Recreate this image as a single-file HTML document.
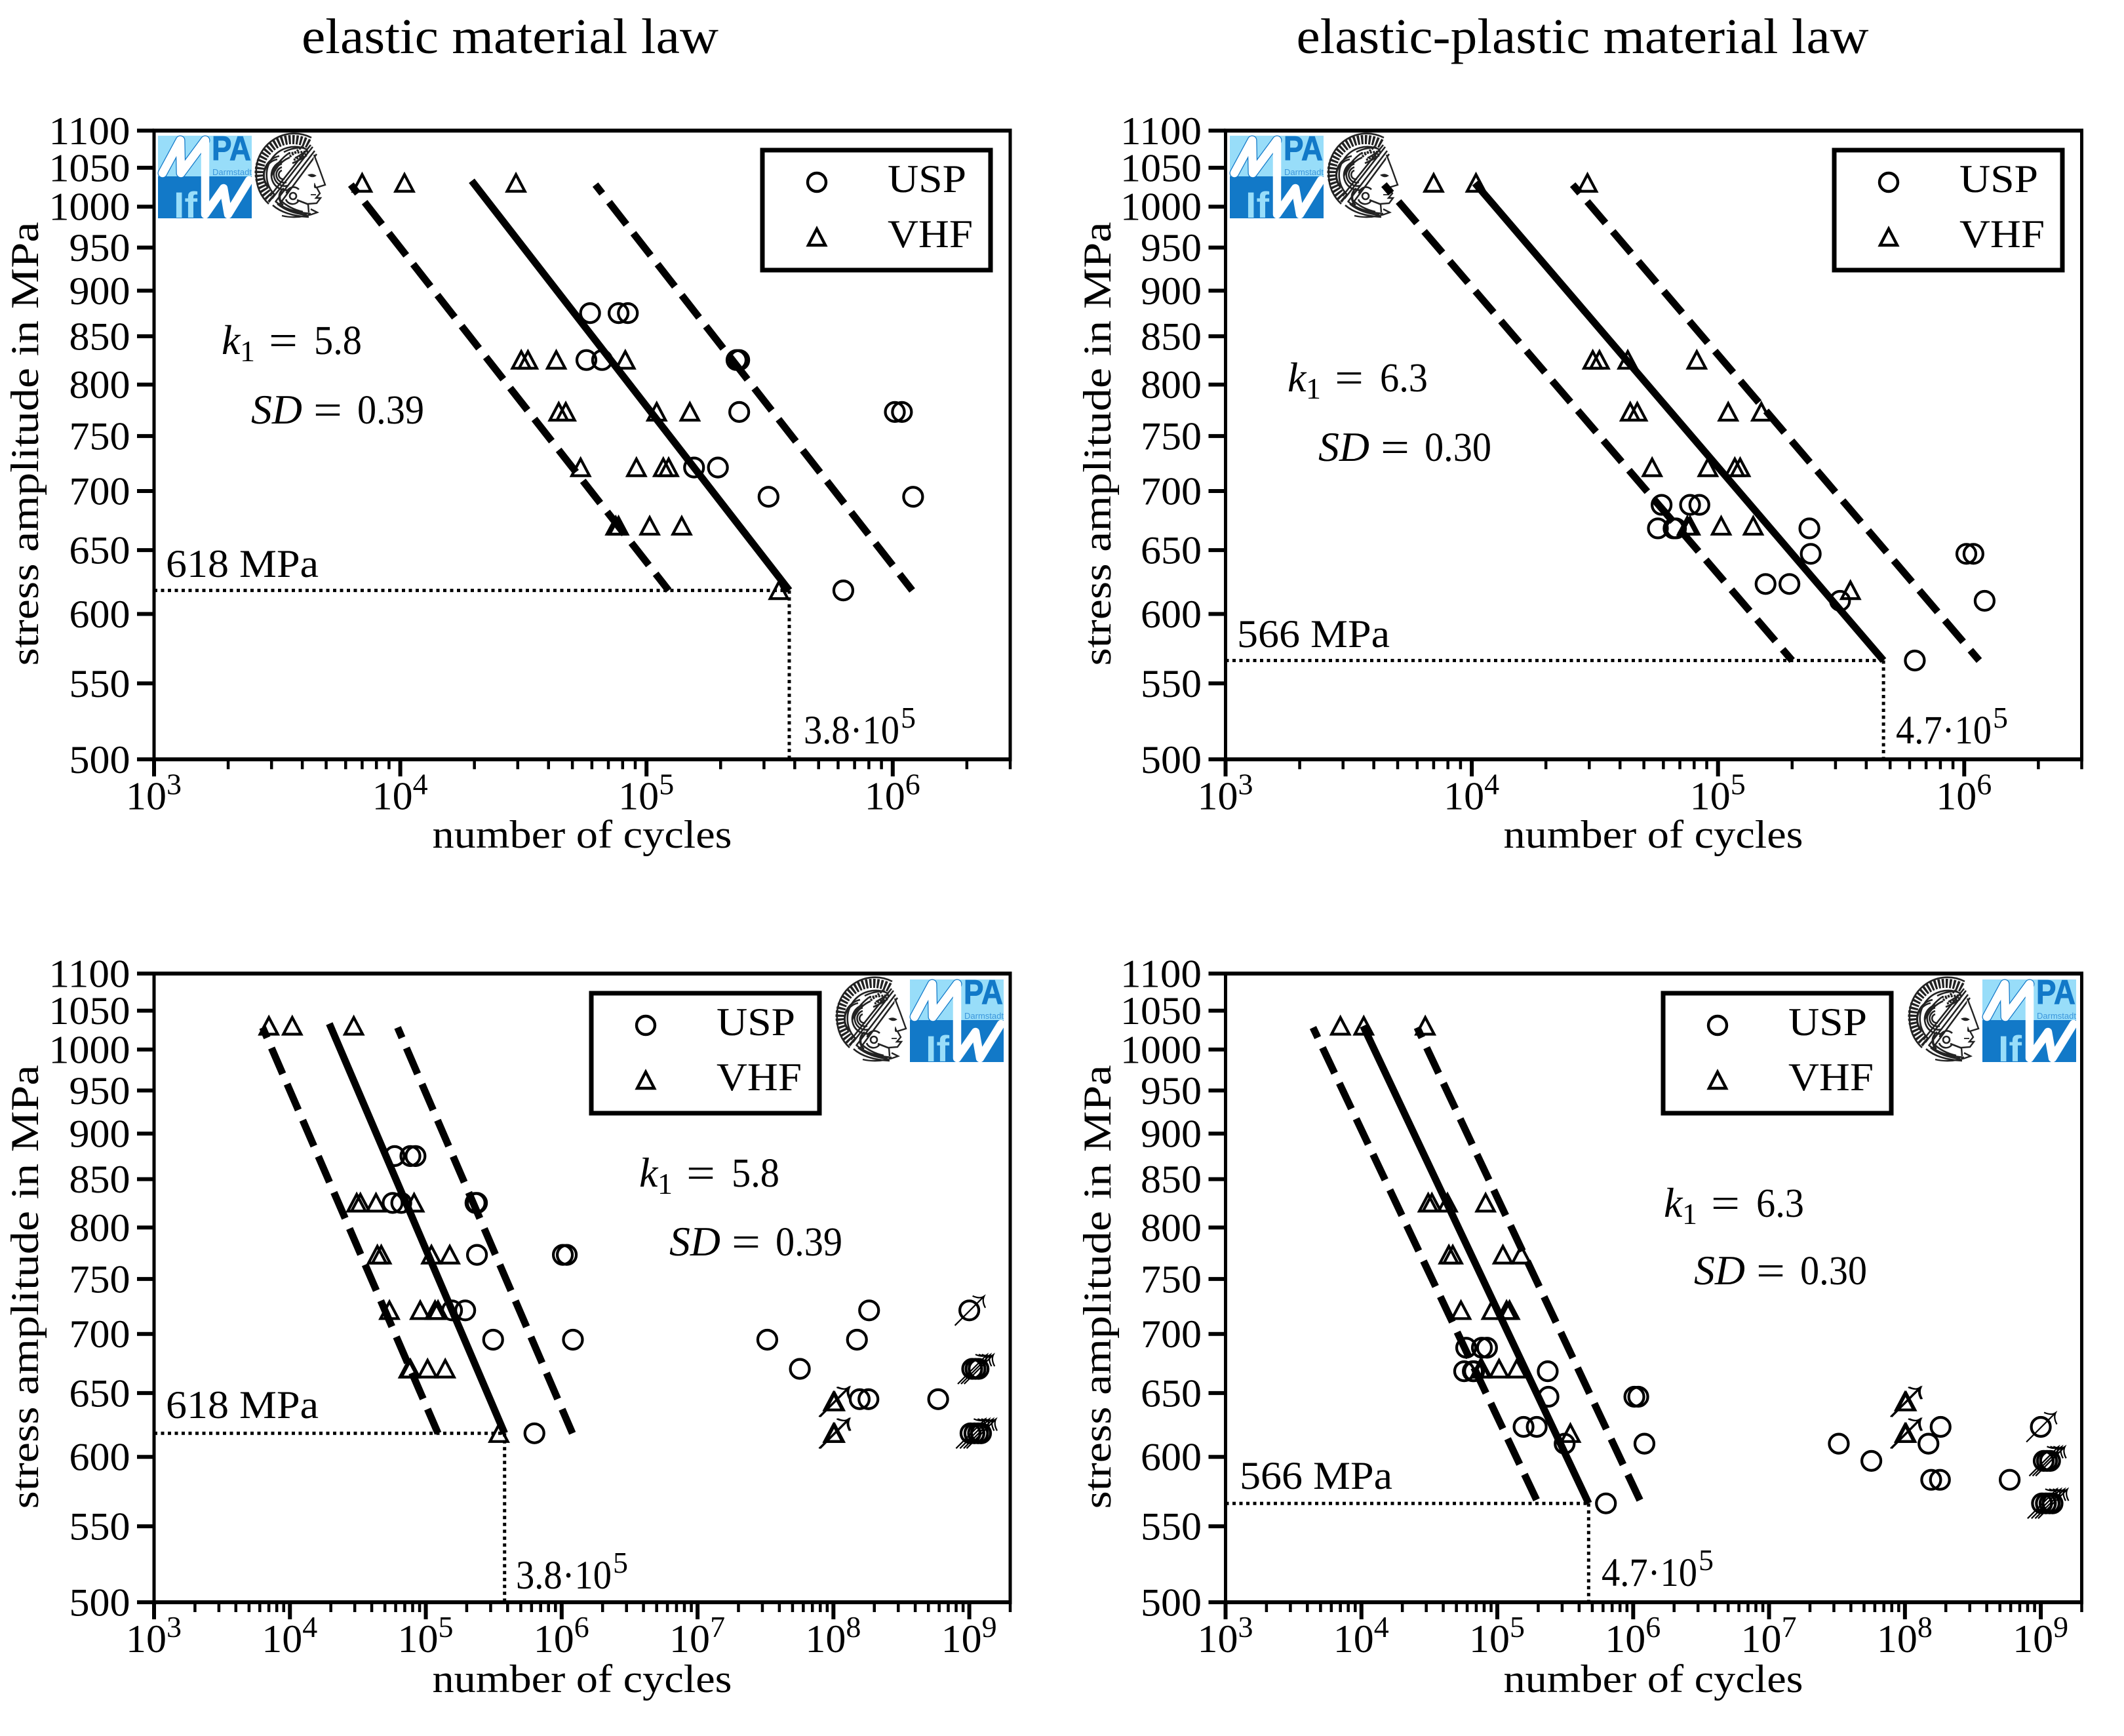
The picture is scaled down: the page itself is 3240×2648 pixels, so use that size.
<!DOCTYPE html>
<html lang="en">
<head>
<meta charset="utf-8">
<title>S-N fatigue charts: elastic and elastic-plastic material law</title>
<style>
html,body{margin:0;padding:0;background:#fff;}
svg{display:block;}
text{font-family:"Liberation Serif",serif;fill:#000;}
</style>
</head>
<body>
<svg id="figure" xmlns="http://www.w3.org/2000/svg" width="3240" height="2648" viewBox="0 0 3240 2648">
<rect width="3240" height="2648" fill="#fff"/>
<text x="778" y="81" font-size="76" text-anchor="middle" textLength="636" lengthAdjust="spacingAndGlyphs">elastic material law</text>
<text x="2414" y="81" font-size="76" text-anchor="middle" textLength="873" lengthAdjust="spacingAndGlyphs">elastic-plastic material law</text>

<!-- panel text -->
<g>
<text x="888" y="1293" font-size="60" text-anchor="middle" textLength="457" lengthAdjust="spacingAndGlyphs">number of cycles</text>
<text transform="translate(58,677) rotate(-90)" font-size="60" text-anchor="middle" textLength="677" lengthAdjust="spacingAndGlyphs">stress amplitude in MPa</text>
<text x="253" y="880" font-size="60" textLength="233" lengthAdjust="spacingAndGlyphs">618 MPa</text>
<text x="1226" y="1134" font-size="61" textLength="146" lengthAdjust="spacingAndGlyphs">3.8·10</text>
<text x="1374" y="1110" font-size="46">5</text>
<g transform="translate(338,540)">
<text x="0" y="0" font-size="64" font-style="italic">k</text><text x="28" y="11" font-size="46">1</text><text x="72" y="2" font-size="68" textLength="44" lengthAdjust="spacingAndGlyphs">=</text><text x="141" y="0" font-size="62" textLength="73" lengthAdjust="spacingAndGlyphs">5.8</text>
</g>
<g transform="translate(383,646)">
<text x="0" y="0" font-size="64" font-style="italic" textLength="78" lengthAdjust="spacingAndGlyphs">SD</text><text x="95" y="2" font-size="68" textLength="44" lengthAdjust="spacingAndGlyphs">=</text><text x="162" y="0" font-size="62" textLength="102" lengthAdjust="spacingAndGlyphs">0.39</text>
</g>
</g>

<g>
<text x="2522" y="1293" font-size="60" text-anchor="middle" textLength="457" lengthAdjust="spacingAndGlyphs">number of cycles</text>
<text transform="translate(1694,677) rotate(-90)" font-size="60" text-anchor="middle" textLength="677" lengthAdjust="spacingAndGlyphs">stress amplitude in MPa</text>
<text x="1887" y="987" font-size="60" textLength="233" lengthAdjust="spacingAndGlyphs">566 MPa</text>
<text x="2892" y="1134" font-size="61" textLength="146" lengthAdjust="spacingAndGlyphs">4.7·10</text>
<text x="3040" y="1110" font-size="46">5</text>
<g transform="translate(1964,597)">
<text x="0" y="0" font-size="64" font-style="italic">k</text><text x="28" y="11" font-size="46">1</text><text x="72" y="2" font-size="68" textLength="44" lengthAdjust="spacingAndGlyphs">=</text><text x="141" y="0" font-size="62" textLength="73" lengthAdjust="spacingAndGlyphs">6.3</text>
</g>
<g transform="translate(2011,703)">
<text x="0" y="0" font-size="64" font-style="italic" textLength="78" lengthAdjust="spacingAndGlyphs">SD</text><text x="95" y="2" font-size="68" textLength="44" lengthAdjust="spacingAndGlyphs">=</text><text x="162" y="0" font-size="62" textLength="102" lengthAdjust="spacingAndGlyphs">0.30</text>
</g>
</g>

<g>
<text x="888" y="2581" font-size="60" text-anchor="middle" textLength="457" lengthAdjust="spacingAndGlyphs">number of cycles</text>
<text transform="translate(58,1963) rotate(-90)" font-size="60" text-anchor="middle" textLength="677" lengthAdjust="spacingAndGlyphs">stress amplitude in MPa</text>
<text x="253" y="2163" font-size="60" textLength="233" lengthAdjust="spacingAndGlyphs">618 MPa</text>
<text x="787" y="2423" font-size="61" textLength="146" lengthAdjust="spacingAndGlyphs">3.8·10</text>
<text x="935" y="2399" font-size="46">5</text>
<g transform="translate(975,1810)">
<text x="0" y="0" font-size="64" font-style="italic">k</text><text x="28" y="11" font-size="46">1</text><text x="72" y="2" font-size="68" textLength="44" lengthAdjust="spacingAndGlyphs">=</text><text x="141" y="0" font-size="62" textLength="73" lengthAdjust="spacingAndGlyphs">5.8</text>
</g>
<g transform="translate(1021,1915)">
<text x="0" y="0" font-size="64" font-style="italic" textLength="78" lengthAdjust="spacingAndGlyphs">SD</text><text x="95" y="2" font-size="68" textLength="44" lengthAdjust="spacingAndGlyphs">=</text><text x="162" y="0" font-size="62" textLength="102" lengthAdjust="spacingAndGlyphs">0.39</text>
</g>
</g>

<g>
<text x="2522" y="2581" font-size="60" text-anchor="middle" textLength="457" lengthAdjust="spacingAndGlyphs">number of cycles</text>
<text transform="translate(1694,1963) rotate(-90)" font-size="60" text-anchor="middle" textLength="677" lengthAdjust="spacingAndGlyphs">stress amplitude in MPa</text>
<text x="1891" y="2271" font-size="60" textLength="233" lengthAdjust="spacingAndGlyphs">566 MPa</text>
<text x="2443" y="2419" font-size="61" textLength="146" lengthAdjust="spacingAndGlyphs">4.7·10</text>
<text x="2591" y="2395" font-size="46">5</text>
<g transform="translate(2538,1856)">
<text x="0" y="0" font-size="64" font-style="italic">k</text><text x="28" y="11" font-size="46">1</text><text x="72" y="2" font-size="68" textLength="44" lengthAdjust="spacingAndGlyphs">=</text><text x="141" y="0" font-size="62" textLength="73" lengthAdjust="spacingAndGlyphs">6.3</text>
</g>
<g transform="translate(2584,1959)">
<text x="0" y="0" font-size="64" font-style="italic" textLength="78" lengthAdjust="spacingAndGlyphs">SD</text><text x="95" y="2" font-size="68" textLength="44" lengthAdjust="spacingAndGlyphs">=</text><text x="162" y="0" font-size="62" textLength="102" lengthAdjust="spacingAndGlyphs">0.30</text>
</g>
</g>

<!-- logos -->
<g transform="translate(241,207)">
<rect width="143" height="62" fill="#98DDF9"/><rect y="62" width="143" height="64" fill="#1279C8"/>
<text x="82" y="37" font-size="52" font-weight="bold" stroke="#1279C8" stroke-width="1" style="font-family:'Liberation Sans',sans-serif;fill:#1279C8" textLength="60" lengthAdjust="spacingAndGlyphs">PA</text>
<text x="83" y="60" font-size="13" style="font-family:'Liberation Sans',sans-serif;fill:#3B96DC" textLength="60" lengthAdjust="spacingAndGlyphs">Darmstadt</text>
<text x="24" y="125" font-size="56" font-weight="bold" style="font-family:'Liberation Sans',sans-serif;fill:#98DDF9" textLength="36" lengthAdjust="spacingAndGlyphs">If</text>
<path d="M7 57L34 7L35 57L72 7" fill="none" stroke="#1279C8" stroke-width="15" stroke-linecap="round" stroke-linejoin="round"/>
<path d="M7 57L34 7L35 57L72 7L72 120L100 80L107 120L139 68" fill="none" stroke="#fff" stroke-width="12.5" stroke-linecap="round" stroke-linejoin="round"/>
</g>
<g transform="translate(1876,207)">
<rect width="143" height="62" fill="#98DDF9"/><rect y="62" width="143" height="64" fill="#1279C8"/>
<text x="82" y="37" font-size="52" font-weight="bold" stroke="#1279C8" stroke-width="1" style="font-family:'Liberation Sans',sans-serif;fill:#1279C8" textLength="60" lengthAdjust="spacingAndGlyphs">PA</text>
<text x="83" y="60" font-size="13" style="font-family:'Liberation Sans',sans-serif;fill:#3B96DC" textLength="60" lengthAdjust="spacingAndGlyphs">Darmstadt</text>
<text x="24" y="125" font-size="56" font-weight="bold" style="font-family:'Liberation Sans',sans-serif;fill:#98DDF9" textLength="36" lengthAdjust="spacingAndGlyphs">If</text>
<path d="M7 57L34 7L35 57L72 7" fill="none" stroke="#1279C8" stroke-width="15" stroke-linecap="round" stroke-linejoin="round"/>
<path d="M7 57L34 7L35 57L72 7L72 120L100 80L107 120L139 68" fill="none" stroke="#fff" stroke-width="12.5" stroke-linecap="round" stroke-linejoin="round"/>
</g>
<g transform="translate(1388,1494)">
<rect width="143" height="62" fill="#98DDF9"/><rect y="62" width="143" height="64" fill="#1279C8"/>
<text x="82" y="37" font-size="52" font-weight="bold" stroke="#1279C8" stroke-width="1" style="font-family:'Liberation Sans',sans-serif;fill:#1279C8" textLength="60" lengthAdjust="spacingAndGlyphs">PA</text>
<text x="83" y="60" font-size="13" style="font-family:'Liberation Sans',sans-serif;fill:#3B96DC" textLength="60" lengthAdjust="spacingAndGlyphs">Darmstadt</text>
<text x="24" y="125" font-size="56" font-weight="bold" style="font-family:'Liberation Sans',sans-serif;fill:#98DDF9" textLength="36" lengthAdjust="spacingAndGlyphs">If</text>
<path d="M7 57L34 7L35 57L72 7" fill="none" stroke="#1279C8" stroke-width="15" stroke-linecap="round" stroke-linejoin="round"/>
<path d="M7 57L34 7L35 57L72 7L72 120L100 80L107 120L139 68" fill="none" stroke="#fff" stroke-width="12.5" stroke-linecap="round" stroke-linejoin="round"/>
</g>
<g transform="translate(3024,1494)">
<rect width="143" height="62" fill="#98DDF9"/><rect y="62" width="143" height="64" fill="#1279C8"/>
<text x="82" y="37" font-size="52" font-weight="bold" stroke="#1279C8" stroke-width="1" style="font-family:'Liberation Sans',sans-serif;fill:#1279C8" textLength="60" lengthAdjust="spacingAndGlyphs">PA</text>
<text x="83" y="60" font-size="13" style="font-family:'Liberation Sans',sans-serif;fill:#3B96DC" textLength="60" lengthAdjust="spacingAndGlyphs">Darmstadt</text>
<text x="24" y="125" font-size="56" font-weight="bold" style="font-family:'Liberation Sans',sans-serif;fill:#98DDF9" textLength="36" lengthAdjust="spacingAndGlyphs">If</text>
<path d="M7 57L34 7L35 57L72 7" fill="none" stroke="#1279C8" stroke-width="15" stroke-linecap="round" stroke-linejoin="round"/>
<path d="M7 57L34 7L35 57L72 7L72 120L100 80L107 120L139 68" fill="none" stroke="#fff" stroke-width="12.5" stroke-linecap="round" stroke-linejoin="round"/>
</g>

<defs>
<g id="athena-head" fill="none" stroke="#222" stroke-width="2.6">
<path d="M85 3A58 58 0 0 0 1 60A58 58 0 0 0 20 104" stroke-width="2.6"/>
<path d="M81 12.5A50.5 50.5 0 0 0 26 97" stroke-width="14" stroke-dasharray="3.4 2.3"/>
<path d="M78 21A43 43 0 0 0 30 91" stroke-width="2.6"/>
<path d="M87 17L25 96M90 23L30 101M84 14L22 92M93 28L36 105" stroke-width="2.6"/>
<path d="M40 39A17 17 0 1 0 53 82M40 43A13 13 0 1 0 50 76M40 48A9 9 0 1 0 47 71M40 53A5 5 0 1 0 44 66M33 36A25 25 0 0 0 22 80M36 31A30 30 0 0 0 18 78"/>
<path d="M28 56Q36 40 52 33M24 62Q30 42 50 27M43 25Q56 18 74 18M60 34Q68 30 76 24M56 42Q66 38 78 30" stroke-width="2.6"/>
<path d="M50 27L80 24M58 37L78 28M52 32L72 16" stroke-width="3.4" stroke-dasharray="3 1.6"/>
<path d="M89 29L97 50L106 75L93 79L98 88L92 95L99 95L93 103L80 104L81 117" fill="#fff" stroke-width="2.4"/>
<path d="M93 79Q88 82 90 72M80 60Q86 57 92 61Q86 65 80 60Z" fill="#222" stroke-width="1"/>
<path d="M92 90L84 90" stroke-width="1.8"/>
<path d="M63 98L81 105"/>
<circle cx="57" cy="92" r="5" stroke-width="2.6"/>
<path d="M47 88A11 11 0 0 1 66 82M46 97A11 11 0 0 0 65 100M40 84A18 18 0 0 0 40 104M43 80A16 16 0 0 0 42 106" stroke-width="2.6"/>
<path d="M26 106Q44 122 81 124M30 100Q48 116 84 119M36 97Q52 112 72 116M33 104Q50 118 78 121" stroke-width="2.6"/>
<path d="M40 122Q66 128 94 117L84 112" stroke-width="2.4"/>
</g>
</defs>
<use href="#athena-head" x="390" y="207"/>
<use href="#athena-head" x="2026" y="207"/>
<use href="#athena-head" x="1276" y="1494"/>
<use href="#athena-head" x="2912" y="1494"/>

<g id="chart-layer"></g>

<!-- legends -->
<g transform="translate(1163,229)">
<rect width="348" height="183" fill="#fff" stroke="#000" stroke-width="7"/>
<circle cx="83" cy="49" r="14" fill="none" stroke="#000" stroke-width="4.4"/>
<path d="M83 120L96 145H70Z" fill="none" stroke="#000" stroke-width="4.4"/>
<text x="191" y="64" font-size="60" textLength="120" lengthAdjust="spacingAndGlyphs">USP</text>
<text x="191" y="148" font-size="60" textLength="130" lengthAdjust="spacingAndGlyphs">VHF</text>
</g>
<g transform="translate(2798,229)">
<rect width="348" height="183" fill="#fff" stroke="#000" stroke-width="7"/>
<circle cx="83" cy="49" r="14" fill="none" stroke="#000" stroke-width="4.4"/>
<path d="M83 120L96 145H70Z" fill="none" stroke="#000" stroke-width="4.4"/>
<text x="191" y="64" font-size="60" textLength="120" lengthAdjust="spacingAndGlyphs">USP</text>
<text x="191" y="148" font-size="60" textLength="130" lengthAdjust="spacingAndGlyphs">VHF</text>
</g>
<g transform="translate(902,1515)">
<rect width="348" height="183" fill="#fff" stroke="#000" stroke-width="7"/>
<circle cx="83" cy="49" r="14" fill="none" stroke="#000" stroke-width="4.4"/>
<path d="M83 120L96 145H70Z" fill="none" stroke="#000" stroke-width="4.4"/>
<text x="191" y="64" font-size="60" textLength="120" lengthAdjust="spacingAndGlyphs">USP</text>
<text x="191" y="148" font-size="60" textLength="130" lengthAdjust="spacingAndGlyphs">VHF</text>
</g>
<g transform="translate(2537,1515)">
<rect width="348" height="183" fill="#fff" stroke="#000" stroke-width="7"/>
<circle cx="83" cy="49" r="14" fill="none" stroke="#000" stroke-width="4.4"/>
<path d="M83 120L96 145H70Z" fill="none" stroke="#000" stroke-width="4.4"/>
<text x="191" y="64" font-size="60" textLength="120" lengthAdjust="spacingAndGlyphs">USP</text>
<text x="191" y="148" font-size="60" textLength="130" lengthAdjust="spacingAndGlyphs">VHF</text>
</g>
</svg>

<script>
// ---- data ----
const yTickValues = [500, 550, 600, 650, 700, 750, 800, 850, 900, 950, 1000, 1050, 1100];
const topExponents = [3, 4, 5, 6];
const bottomExponents = [3, 4, 5, 6, 7, 8, 9];

const vhfCycles = [7.0e3, 1.04e4, 2.95e4, 3.1e4, 3.3e4, 4.3e4, 8.2e4, 4.4e4, 4.7e4, 1.1e5, 1.5e5, 5.4e4, 9.1e4, 1.17e5, 1.23e5, 7.5e4, 7.7e4, 1.03e5, 1.39e5, 3.45e5];
const vhfStress = [1030, 1030, 1030, 825, 825, 825, 825, 773, 773, 773, 773, 721, 721, 721, 721, 670, 670, 670, 670, 618];
const vhfRunoutCycles = [1.0e8, 1.02e8, 1.0e8, 1.02e8];
const vhfRunoutStress = [643, 643, 618, 618];

const elasticUspCycles = [5.9e4, 7.7e4, 8.4e4, 5.7e4, 6.6e4, 2.32e5, 2.38e5, 2.38e5, 1.02e6, 1.09e6, 1.56e5, 1.95e5, 3.13e5, 1.21e6, 6.3e5];
const elasticUspStress = [875, 875, 875, 825, 825, 825, 825, 773, 773, 773, 721, 721, 695, 695, 618];
const plasticUspCycles = [5.9e4, 7.7e4, 8.4e4, 5.7e4, 6.6e4, 6.75e4, 2.35e5, 2.38e5, 1.02e6, 1.09e6, 1.56e5, 1.95e5, 3.13e5, 1.21e6, 6.3e5];
const plasticUspStress = [688, 688, 688, 668, 668, 668, 668, 647, 647, 647, 623, 623, 610, 610, 566];

const extraUspCycles = [1.83e8, 3.26e7, 1.49e8, 5.66e7, 1.56e8, 1.81e8, 5.9e8];
const elasticExtraStress = [721, 695, 695, 670, 645, 645, 645];
const plasticExtraStress = [623, 610, 610, 597, 583, 583, 583];

const uspRunoutCycles = [1.0e9, 1.05e9, 1.11e9, 1.17e9, 1.02e9, 1.09e9, 1.16e9, 1.22e9];
const elasticRunoutStress = [721, 670, 670, 670, 618, 618, 618, 618];
const plasticRunoutStress = [623, 597, 597, 597, 566, 566, 566, 566];

const elasticFitCycles = [1.95e4, 3.8e5];
const elasticFitStress = [1033, 618];
const elasticLowerCycles = [6.3e3, 1.23e5];
const elasticUpperCycles = [6.2e4, 1.2e6];
const elasticBandStress = [1028, 618];

const plasticFitCycles = [1.03e4, 4.7e5];
const plasticFitStress = [1030, 566];
const plasticLowerCycles = [4.4e3, 2.0e5];
const plasticUpperCycles = [2.57e4, 1.15e6];
const plasticBandStress = [1028, 566];

const NS = 'http://www.w3.org/2000/svg';
const chartLayer = document.getElementById('chart-layer');
const Y_MAX = 1100, Y_MIN = 500;
const PLOT_W = 1306, PLOT_H = 959;

function mk(tag, attrs, parent) {
  const el = document.createElementNS(NS, tag);
  for (const k in attrs) el.setAttribute(k, attrs[k]);
  parent.appendChild(el);
  return el;
}

function drawPanel(p) {
  const xAt = n => p.left + (Math.log10(n) - 3) * PLOT_W / (Math.log10(p.xMax) - 3);
  const yAt = s => p.top + PLOT_H * Math.log(Y_MAX / s) / Math.log(Y_MAX / Y_MIN);
  const bottom = p.top + PLOT_H;
  const right = p.left + PLOT_W;

  const g = mk('g', {}, chartLayer);
  
  

  // spines
  const spineTop = mk('line', {x1: p.left - 2.5, x2: right + 2.5, y1: p.top, y2: p.top, stroke: '#000', 'stroke-width': 6}, g);
  
  
  const spineBottom = mk('line', {x1: p.left - 2.5, x2: right + 2.5, y1: bottom, y2: bottom, stroke: '#000', 'stroke-width': 6}, g);
  
  
  const spineLeft = mk('line', {x1: p.left, x2: p.left, y1: p.top, y2: bottom, stroke: '#000', 'stroke-width': 5}, g);
  
  
  const spineRight = mk('line', {x1: right, x2: right, y1: p.top, y2: bottom, stroke: '#000', 'stroke-width': 5}, g);
  
  

  // y ticks
  yTickValues.forEach(v => {
    const y = yAt(v);
    const t = mk('line', {x1: p.left - 26, x2: p.left, y1: y, y2: y, stroke: '#000', 'stroke-width': 6}, g);
    
    
    const l = mk('text', {x: p.left - 36.5, y: y + 20.5, 'font-size': 60, 'text-anchor': 'end', textLength: String(v).length * 31, lengthAdjust: 'spacingAndGlyphs'}, g);
    
    
    l.textContent = v;
  });

  // x ticks
  p.exponents.forEach(e => {
    const x = xAt(Math.pow(10, e));
    const t = mk('line', {x1: x, x2: x, y1: bottom, y2: bottom + 26, stroke: '#000', 'stroke-width': 6}, g);
    
    
    const base = mk('text', {x: x - 43, y: bottom + 76, 'font-size': 60, textLength: 62, lengthAdjust: 'spacingAndGlyphs'}, g);
    
    
    base.textContent = '10';
    const sup = mk('text', {x: x + 19, y: bottom + 53, 'font-size': 46}, g);
    
    
    sup.textContent = e;
    for (let m = 2; m <= 9; m++) {
      const n = m * Math.pow(10, e);
      if (n > p.xMax * 1.0001) break;
      const mx = xAt(n);
      const mt = mk('line', {x1: mx, x2: mx, y1: bottom, y2: bottom + 15, stroke: '#000', 'stroke-width': 4.5}, g);
      
      
    }
  });

  // fatigue lines
  const solid = mk('line', {x1: xAt(p.fitCycles[0]), y1: yAt(p.fitStress[0]), x2: xAt(p.fitCycles[1]), y2: yAt(p.fitStress[1]), stroke: '#000', 'stroke-width': 11}, g);
  
  
  const lower = mk('line', {x1: xAt(p.lowerCycles[0]), y1: yAt(p.bandStress[0]), x2: xAt(p.lowerCycles[1]), y2: yAt(p.bandStress[1]), stroke: '#000', 'stroke-width': 11, 'stroke-dasharray': '43 17', 'stroke-dashoffset': 26}, g);
  
  
  const upper = mk('line', {x1: xAt(p.upperCycles[0]), y1: yAt(p.bandStress[0]), x2: xAt(p.upperCycles[1]), y2: yAt(p.bandStress[1]), stroke: '#000', 'stroke-width': 11, 'stroke-dasharray': '43 17', 'stroke-dashoffset': 26}, g);
  
  

  // knee guides
  const kx = xAt(p.fitCycles[1]);
  const ky = yAt(p.fitStress[1]);
  const hGuide = mk('line', {x1: p.left, x2: kx, y1: ky, y2: ky, stroke: '#000', 'stroke-width': 5, 'stroke-dasharray': '5 5.5'}, g);
  
  
  const vGuide = mk('line', {x1: kx, x2: kx, y1: ky, y2: bottom, stroke: '#000', 'stroke-width': 5, 'stroke-dasharray': '5 5.5'}, g);
  
  

  // markers
  const circle = (n, s, name) => {
    const c = mk('circle', {cx: xAt(n), cy: yAt(s), r: 14.5, fill: 'none', stroke: '#000', 'stroke-width': 4.2}, g);
    
    
  };
  const triangle = (n, s, name) => {
    const x = xAt(n), y = yAt(s);
    const t = mk('path', {d: 'M' + x + ' ' + (y - 13) + 'l13.5 25.5h-27z', fill: 'none', stroke: '#000', 'stroke-width': 4.2}, g);
    
    
  };
  const arrow = (n, s) => {
    const x = xAt(n), y = yAt(s);
    const a = mk('path', {d: 'M' + (x - 22) + ' ' + (y + 23) + 'L' + (x + 22.5) + ' ' + (y - 21.5) +
      'M' + (x + 5) + ' ' + (y - 22) + 'Q' + (x + 16) + ' ' + (y - 17) + ' ' + (x + 22.5) + ' ' + (y - 21.5) +
      'Q' + (x + 19) + ' ' + (y - 14) + ' ' + (x + 24.5) + ' ' + (y - 4),
      fill: 'none', stroke: '#000', 'stroke-width': 2.2}, g);
    
    
  };

  p.uspCycles.forEach((n, i) => circle(n, p.uspStress[i], 'usp-point'));
  vhfCycles.forEach((n, i) => triangle(n, vhfStress[i], 'vhf-point'));
  if (p.extraStress) {
    extraUspCycles.forEach((n, i) => circle(n, p.extraStress[i], 'usp-point'));
    uspRunoutCycles.forEach((n, i) => {
      circle(n, p.runoutStress[i], 'usp-runout-point');
      arrow(n, p.runoutStress[i]);
    });
    vhfRunoutCycles.forEach((n, i) => {
      triangle(n, vhfRunoutStress[i], 'vhf-runout-point');
      arrow(n, vhfRunoutStress[i]);
    });
  }
}

drawPanel({name: 'chart-elastic-top', left: 235, top: 199.3, xMax: 3e6, exponents: topExponents,
  fitCycles: elasticFitCycles, fitStress: elasticFitStress, lowerCycles: elasticLowerCycles, upperCycles: elasticUpperCycles, bandStress: elasticBandStress,
  uspCycles: elasticUspCycles, uspStress: elasticUspStress});
drawPanel({name: 'chart-plastic-top', left: 1869.5, top: 199.3, xMax: 3e6, exponents: topExponents,
  fitCycles: plasticFitCycles, fitStress: plasticFitStress, lowerCycles: plasticLowerCycles, upperCycles: plasticUpperCycles, bandStress: plasticBandStress,
  uspCycles: plasticUspCycles, uspStress: plasticUspStress});
drawPanel({name: 'chart-elastic-bottom', left: 235, top: 1485, xMax: 2e9, exponents: bottomExponents,
  fitCycles: elasticFitCycles, fitStress: elasticFitStress, lowerCycles: elasticLowerCycles, upperCycles: elasticUpperCycles, bandStress: elasticBandStress,
  uspCycles: elasticUspCycles, uspStress: elasticUspStress, extraStress: elasticExtraStress, runoutStress: elasticRunoutStress});
drawPanel({name: 'chart-plastic-bottom', left: 1869.5, top: 1485, xMax: 2e9, exponents: bottomExponents,
  fitCycles: plasticFitCycles, fitStress: plasticFitStress, lowerCycles: plasticLowerCycles, upperCycles: plasticUpperCycles, bandStress: plasticBandStress,
  uspCycles: plasticUspCycles, uspStress: plasticUspStress, extraStress: plasticExtraStress, runoutStress: plasticRunoutStress});
</script>
</body>
</html>
